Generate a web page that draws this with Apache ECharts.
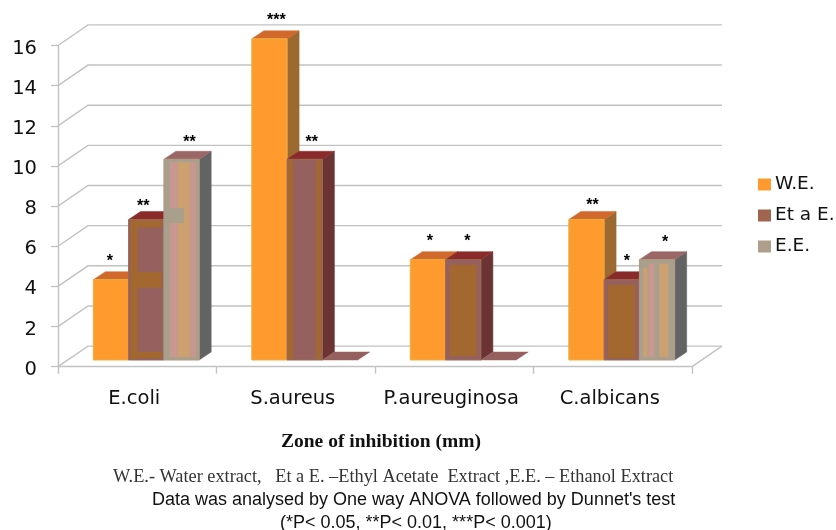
<!DOCTYPE html>
<html>
<head>
<meta charset="utf-8">
<style>
html,body{margin:0;padding:0;background:#fff;}
#c{width:836px;height:530px;filter:blur(0.4px);}
</style>
<script src="https://cdn.jsdelivr.net/npm/echarts@6/dist/echarts.min.js"></script>
</head>
<body>
<div id="c"></div>
<script>
const categories = ['E.coli','S.aureus','P.aureuginosa','C.albicans'];
const waterExtract = [4,16,5,7];
const ethylAcetateExtract = [7,10,5,4];
const ethanolExtract = [10,0,0,5];
const waterSig = ['*','***','*','**'];
const ethylSig = ['**','**','*','*'];
const ethanolSig = ['**','','','*'];
const yTicks = [0,2,4,6,8,10,12,14,16];

const BAR_W = 35.3, DEPTH_X = 12, DEPTH_Y = 8, FLOOR_Y = 6.7, GROUP_SHIFT = 9;
const WALL_X = 30, WALL_Y = 20.6;
const GRID = '#c2c2c2';
const BROWN = '#a2682f', MAUVE = '#96605f', PINK = '#c89890', TAN = '#cda070', KHAKI = '#a8a08c';

const palettes = [
  {name:'W.E.', front:'#ff9a2e', top:'#d2692c', side:'#9c6a30', edge:'#e8b040'},
  {name:'Et a E.', front:MAUVE, top:'#8b2a2a', side:'#6b3333', edge:'#9a6a50'},
  {name:'E.E.', front:KHAKI, top:'#9a6666', side:'#636363', edge:'#b09a80'}
];
const seriesValues = [waterExtract, ethylAcetateExtract, ethanolExtract];
const seriesSig = [waterSig, ethylSig, ethanolSig];

/* star label nudges [dx, dy] in px, per series and category */
const starNudge = [
  [[-1,1],[7,1],[2,1],[6,5]],
  [[-3,6],[7,2],[4,1],[5,1]],
  [[8,2],[0,0],[0,0],[8,2]]
];
/* surface blotches on the bar faces: [dx, width, insetTop, insetBottom, colour]; band: [dx, width, vFrom, vTo, colour, 'v'] */
const blotches = [
  [[],[],[],[]],
  [
    [[2,7,3,1,BROWN],[8,25,0,0,BROWN,'v',3.6,4.38],[2,31,3,1,BROWN,'v',0.1,0.4],[2,31,0,0,BROWN,'v',6.6,6.95]],
    [[1,5,1,1,BROWN],[29,5,1,1,BROWN]],
    [[4,27,5,4,BROWN]],
    [[4,27,5,2,BROWN]]
  ],
  [
    [[6,8,3,3,PINK],[14,12,3,3,TAN],[26,6,3,3,PINK],[2,18,0,0,KHAKI,'v',6.83,7.57]],
    [],[],
    [[9,6,4,3,PINK],[20,9,4,3,TAN],[4,4,8,3,TAN]]
  ]
];

function poly(points, fill){
  return {type:'polygon', shape:{points}, style:{fill, stroke:fill, lineWidth:0.5}};
}

function barRenderer(si){
  const pal = palettes[si];
  return function(params, api){
    const idx = api.value(0), val = api.value(1);
    const c = api.coord([idx, val]);
    const c0 = api.coord([idx, 0]);
    const x0 = c[0] + GROUP_SHIFT + (si - 1.5) * BAR_W;
    const x1 = x0 + BAR_W;
    const yTop = c[1] - FLOOR_Y, yBot = c0[1] - FLOOR_Y;
    const ch = [];
    if (val > 0){
      ch.push(poly([[x1,yTop],[x1+DEPTH_X,yTop-DEPTH_Y],[x1+DEPTH_X,yBot-DEPTH_Y],[x1,yBot]], pal.side));
    }
    ch.push(poly([[x0,yTop],[x0+DEPTH_X,yTop-DEPTH_Y],[x1+DEPTH_X,yTop-DEPTH_Y],[x1,yTop]], val > 0 ? pal.top : MAUVE));
    if (val > 0){
      ch.push({type:'rect', shape:{x:x0,y:yTop,width:BAR_W,height:yBot-yTop}, style:{fill:pal.front, stroke:pal.edge, lineWidth:1}});
      blotches[si][idx].forEach(b => {
        let y, h;
        if (b[5] === 'v'){
          y = api.coord([idx, b[7]])[1] - FLOOR_Y;
          h = api.coord([idx, b[6]])[1] - FLOOR_Y - y;
        } else {
          y = yTop + b[2];
          h = yBot - yTop - b[2] - b[3];
        }
        ch.push({type:'rect', shape:{x:x0+b[0],y,width:b[1],height:h}, style:{fill:b[4]}});
      });
      const sig = seriesSig[si][idx];
      if (sig){
        const n = starNudge[si][idx];
        ch.push({type:'text', style:{x:(x0+x1)/2+n[0], y:yTop-19+n[1], text:sig, fill:'#000',
          font:'bold 16px "Liberation Sans"', textAlign:'center', textVerticalAlign:'middle'}});
      }
    }
    return {type:'group', children:ch};
  };
}

function wallRenderer(params, api){
  const v = api.value(1);
  const p = api.coord([0, v]);
  const cs = params.coordSys;
  const a = [cs.x, p[1]], b = [cs.x+WALL_X, p[1]-WALL_Y], d = [cs.x+cs.width+WALL_X, p[1]-WALL_Y];
  const ch = [{type:'polyline', shape:{points:[a,b,d]}, style:{fill:'none', stroke:GRID, lineWidth:1.4}}];
  if (v === 0){
    ch.push({type:'line', shape:{x1:d[0],y1:d[1],x2:cs.x+cs.width,y2:p[1]}, style:{stroke:GRID, lineWidth:1.4}});
  }
  return {type:'group', children:ch};
}

const series = [{
  type:'custom', name:'wall', silent:true, z:1,
  coordinateSystem:'cartesian2d', renderItem:wallRenderer,
  data: yTicks.map(t => [0,t]), encode:{x:0,y:1}
}];
palettes.forEach((pal, si) => {
  series.push({
    type:'custom', name:pal.name, z:2+si,
    coordinateSystem:'cartesian2d',
    renderItem:barRenderer(si),
    itemStyle:{color: si===0 ? pal.front : (si===1 ? '#a0644f' : '#ae9f8c')},
    data: seriesValues[si].map((v,i) => [i,v]),
    encode:{x:0,y:1}
  });
});

function noteText(text, x, y, font, fill){
  return {type:'text', left:x, top:y, style:{text, font, fill:fill||'#111'}};
}

const chart = echarts.init(document.getElementById('c'));
chart.setOption({
  animation:false,
  backgroundColor:'#fff',
  grid:{left:58, right:144, top:45.5, bottom:163.3},
  legend:{
    data:palettes.map(p => p.name), orient:'vertical', left:753, top:170, itemWidth:13, itemHeight:12, itemGap:12, icon:'rect',
    textStyle:{fontFamily:'DejaVu Sans', fontSize:18.5, lineHeight:19, color:'#111', padding:[0,0,0,-1]}
  },
  xAxis:{
    type:'category', data:categories, boundaryGap:true,
    axisLine:{lineStyle:{color:GRID, width:1.4}},
    axisTick:{show:true, length:7, interval:0, lineStyle:{color:GRID, width:1.4}},
    axisLabel:{fontFamily:'DejaVu Sans', fontSize:19.5, color:'#111', margin:22, interval:0, padding:[0,6,0,0]}
  },
  yAxis:{
    type:'value', min:0, max:16, interval:2,
    splitLine:{show:false},
    axisLine:{show:true, lineStyle:{color:GRID, width:1.4}},
    axisTick:{show:true, length:7, lineStyle:{color:GRID, width:1.4}},
    axisLabel:{fontFamily:'DejaVu Sans', fontSize:19.5, lineHeight:20, color:'#111', margin:21, verticalAlign:'top', padding:[-7,0,0,0]}
  },
  series,
  graphic:[
    noteText('Zone of inhibition (mm)', 281, 432, 'bold 19.5px "Liberation Serif"'),
    noteText('W.E.- Water extract,   Et a E. –Ethyl Acetate  Extract ,E.E. – Ethanol Extract', 113, 468, '18.3px "Liberation Serif"', '#333'),
    noteText("Data was analysed by One way ANOVA followed by Dunnet's test", 152, 491, '18px "Liberation Sans"'),
    noteText('(*P< 0.05, **P< 0.01, ***P< 0.001)', 280, 514, '18px "Liberation Sans"')
  ]
});
</script>
</body>
</html>
